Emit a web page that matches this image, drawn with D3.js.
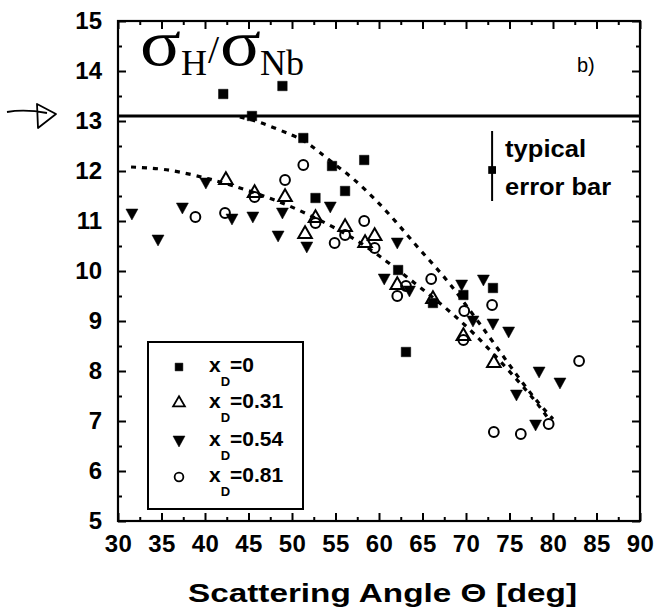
<!DOCTYPE html>
<html>
<head>
<meta charset="utf-8">
<script src="https://cdn.jsdelivr.net/npm/d3@7"></script>
<style>
  body { margin: 0; background: #fff; }
  svg { display: block; }
</style>
</head>
<body>
<div id="viz"></div>
<script>
// angle [deg], sigma_H/sigma_Nb
const xD0 = [[42.1,13.54],[45.4,13.10],[48.9,13.70],[51.3,12.66],[54.6,12.10],[58.3,12.22],[52.7,11.46],
  [56.1,11.60],[62.2,10.02],[63.1,8.38],[66.2,9.36],[69.7,9.52],[73.1,9.66]];
const xD31 = [[42.4,11.82],[45.7,11.56],[49.2,11.48],[51.5,10.74],[52.7,11.06],[56.1,10.88],[58.4,10.56],
  [59.5,10.70],[62.1,9.72],[66.2,9.44],[69.7,8.70],[73.2,8.16]];
const xD54 = [[31.6,11.14],[34.6,10.62],[37.4,11.26],[40.1,11.76],[43.1,11.04],[45.5,11.08],[48.9,11.16],
  [48.4,10.70],[51.7,10.48],[54.4,11.28],[62.1,10.56],[60.6,9.84],[63.5,9.60],[69.5,9.72],[72.0,9.82],
  [70.8,9.00],[73.1,8.94],[74.9,8.78],[78.4,7.98],[80.8,7.76],[75.8,7.52],[78.0,6.92]];
const xD81 = [[38.9,11.08],[42.3,11.16],[45.7,11.48],[49.2,11.82],[51.3,12.12],[52.7,10.96],[54.9,10.56],
  [56.1,10.72],[58.3,11.00],[59.5,10.46],[62.1,9.50],[63.1,9.70],[66.0,9.84],[69.8,9.20],[73.0,9.32],
  [69.7,8.62],[83.0,8.20],[79.5,6.94],[73.2,6.78],[76.3,6.74]];

// dotted guide curves
const curveUpper = [[44,13.08],[46,13.0],[48,12.86],[50,12.72],[51.5,12.60],[53,12.40],[55,12.12],[57,11.86],
  [59.5,11.45],[62,10.98],[64.3,10.50],[66.2,10.14],[68.2,9.74],[70.5,9.20],[72.7,8.68],[74.5,8.24],
  [76.5,7.76],[78.5,7.32],[80,7.04]];
const curveLower = [[31.5,12.08],[35,12.05],[38,11.95],[40.5,11.84],[43,11.72],[46,11.55],[49,11.36],
  [52,11.12],[55,10.86],[58,10.56],[61,10.18],[63.5,9.84],[66,9.50],[68.5,9.14],[71,8.74],[73.5,8.28],
  [76,7.80],[78,7.40],[79.5,7.04]];

const limitValue = 13.1;
const errorBar = {angle: 73.0, value: 12.02, lo: 11.4, hi: 12.8};

const xTicks = [30,35,40,45,50,55,60,65,70,75,80,85,90];
const yTicks = [5,6,7,8,9,10,11,12,13,14,15];
const legendLabels = ['0', '0.31', '0.54', '0.81'];

const W = 656, H = 614;
const plotL = 118, plotR = 640, plotT = 21, plotB = 521;

const svg = d3.select('#viz').append('svg').attr('width', W).attr('height', H);
svg.append('rect').attr('width', W).attr('height', H).attr('fill', '#fff');

const x = d3.scaleLinear().domain([30, 90]).range([plotL, plotR]);
const y = d3.scaleLinear().domain([5, 15]).range([plotB, plotT]);

const sans = 'Liberation Sans, Arial, sans-serif';
const serif = 'Liberation Serif, Times New Roman, serif';

// axes, ticks pointing inward
const gx = svg.append('g').attr('transform', `translate(0,${plotB})`)
  .call(d3.axisBottom(x).tickValues(xTicks).tickSize(-8).tickPadding(14));
const gxMinor = svg.append('g').attr('transform', `translate(0,${plotB})`)
  .call(d3.axisBottom(x).tickValues(d3.range(32.5, 90, 5)).tickSize(-4).tickFormat(''));
const gxTop = svg.append('g').attr('transform', `translate(0,${plotT})`)
  .call(d3.axisTop(x).tickValues(xTicks).tickSize(-8).tickFormat(''));
const gxTopMinor = svg.append('g').attr('transform', `translate(0,${plotT})`)
  .call(d3.axisTop(x).tickValues(d3.range(32.5, 90, 5)).tickSize(-4).tickFormat(''));
const gy = svg.append('g').attr('transform', `translate(${plotL},0)`)
  .call(d3.axisLeft(y).tickValues(yTicks).tickSize(-8).tickPadding(16));
const gyMinor = svg.append('g').attr('transform', `translate(${plotL},0)`)
  .call(d3.axisLeft(y).tickValues(d3.range(5.5, 15, 1)).tickSize(-4).tickFormat(''));
const gyR = svg.append('g').attr('transform', `translate(${plotR},0)`)
  .call(d3.axisRight(y).tickValues(yTicks).tickSize(-8).tickFormat(''));
const gyRMinor = svg.append('g').attr('transform', `translate(${plotR},0)`)
  .call(d3.axisRight(y).tickValues(d3.range(5.5, 15, 1)).tickSize(-4).tickFormat(''));

[gx, gxMinor, gxTop, gxTopMinor, gy, gyMinor, gyR, gyRMinor].forEach(g => {
  g.select('.domain').remove();
  g.selectAll('line').attr('stroke', '#000').attr('stroke-width', 2);
});
gx.selectAll('text').attr('font-family', sans).attr('font-weight', 'bold')
  .attr('font-size', 24).attr('letter-spacing', 0.5).attr('fill', '#000');
gy.selectAll('text').attr('font-family', sans).attr('font-weight', 'bold')
  .attr('font-size', 24).attr('fill', '#000');

// frame
svg.append('rect').attr('x', plotL).attr('y', plotT)
  .attr('width', plotR - plotL).attr('height', plotB - plotT)
  .attr('fill', 'none').attr('stroke', '#000').attr('stroke-width', 2.2);

// horizontal limit line
svg.append('line').attr('x1', plotL).attr('x2', plotR)
  .attr('y1', y(limitValue)).attr('y2', y(limitValue))
  .attr('stroke', '#000').attr('stroke-width', 3);

// dotted curves
const line = d3.line().x(d => x(d[0])).y(d => y(d[1])).curve(d3.curveBasis);
[curveUpper, curveLower].forEach(c => {
  svg.append('path').attr('d', line(c)).attr('fill', 'none')
    .attr('stroke', '#000').attr('stroke-width', 3.2).attr('stroke-dasharray', '5,6');
});

// markers
const sym = {
  sq: d3.symbol().type(d3.symbolSquare).size(90),
  up: d3.symbol().type(d3.symbolTriangle).size(80),
  circ: d3.symbol().type(d3.symbolCircle).size(75)
};
const downTri = 'M-6,-5L6,-5L0,6Z';

function drawSeries(data, kind) {
  const g = svg.append('g');
  g.selectAll('path').data(data).enter().append('path')
    .attr('transform', d => `translate(${x(d[0])},${y(d[1])})`)
    .attr('d', kind === 'down' ? downTri : sym[kind]())
    .attr('fill', kind === 'sq' || kind === 'down' ? '#000' : 'none')
    .attr('stroke', '#000')
    .attr('stroke-width', kind === 'sq' || kind === 'down' ? 0.5 : 2);
}
drawSeries(xD54, 'down');
drawSeries(xD31, 'up');
drawSeries(xD81, 'circ');
drawSeries(xD0, 'sq');

// typical error bar
const ex = x(errorBar.angle);
svg.append('line').attr('x1', ex).attr('x2', ex)
  .attr('y1', y(errorBar.hi)).attr('y2', y(errorBar.lo))
  .attr('stroke', '#000').attr('stroke-width', 2);
svg.append('path').attr('transform', `translate(${ex},${y(errorBar.value)})`)
  .attr('d', d3.symbol().type(d3.symbolSquare).size(60)()).attr('fill', '#000');
svg.append('text').attr('x', ex + 13).attr('y', y(errorBar.value) - 13)
  .attr('font-family', sans).attr('font-weight', 'bold').attr('font-size', 24)
  .attr('textLength', 81).attr('lengthAdjust', 'spacingAndGlyphs').text('typical');
svg.append('text').attr('x', ex + 13).attr('y', y(errorBar.value) + 25)
  .attr('font-family', sans).attr('font-weight', 'bold').attr('font-size', 24)
  .attr('textLength', 106).attr('lengthAdjust', 'spacingAndGlyphs').text('error bar');

// title sigma_H / sigma_Nb  (sigma glyphs are wider in the original face)
function sigma(px) {
  svg.append('text').attr('transform', `translate(${px},65) scale(1.15,1)`)
    .attr('font-family', serif).attr('font-size', 66).text('σ');
}
function sub(px, str) {
  svg.append('text').attr('x', px).attr('y', 75)
    .attr('font-family', serif).attr('font-size', 36).text(str);
}
sigma(140);
sub(181, 'H');
svg.append('text').attr('x', 208).attr('y', 63).attr('font-family', serif)
  .attr('font-size', 40).text('/');
sigma(220);
sub(260, 'Nb');

svg.append('text').attr('x', 577).attr('y', 72).attr('font-family', sans)
  .attr('font-size', 20).text('b)');

// hand drawn arrow at the limit
svg.append('path').attr('d', 'M7,112 Q25,109 47,113 M37,104 L56,114 L38,128 Z')
  .attr('fill', 'none').attr('stroke', '#000').attr('stroke-width', 1.8)
  .attr('stroke-linejoin', 'round');

// legend
svg.append('rect').attr('x', 148).attr('y', 342).attr('width', 155).attr('height', 167)
  .attr('fill', '#fff').attr('stroke', '#000').attr('stroke-width', 2);
const legendKinds = ['sq', 'up', 'down', 'circ'];
const rowY = [367, 403, 441, 477];
legendKinds.forEach((k, i) => {
  const ly = rowY[i];
  svg.append('path').attr('transform', `translate(179,${ly})`)
    .attr('d', k === 'down' ? downTri : d3.symbol().type(
      k === 'sq' ? d3.symbolSquare : k === 'up' ? d3.symbolTriangle : d3.symbolCircle).size(60)())
    .attr('fill', k === 'sq' || k === 'down' ? '#000' : 'none')
    .attr('stroke', '#000').attr('stroke-width', k === 'sq' || k === 'down' ? 0.5 : 1.8);
  const t = svg.append('text').attr('x', 209).attr('y', ly + 5)
    .attr('font-family', sans).attr('font-weight', 'bold').attr('font-size', 21);
  t.append('tspan').text('x');
  t.append('tspan').attr('font-size', 13).attr('dy', 14).text('D');
  t.append('tspan').attr('dy', -14).text('=' + legendLabels[i]);
});

// x axis title
svg.append('text').attr('x', 188).attr('y', 602)
  .attr('font-family', sans).attr('font-weight', 'bold').attr('font-size', 25)
  .attr('textLength', 389).attr('lengthAdjust', 'spacingAndGlyphs')
  .text('Scattering Angle Θ  [deg]');
</script>
</body>
</html>
